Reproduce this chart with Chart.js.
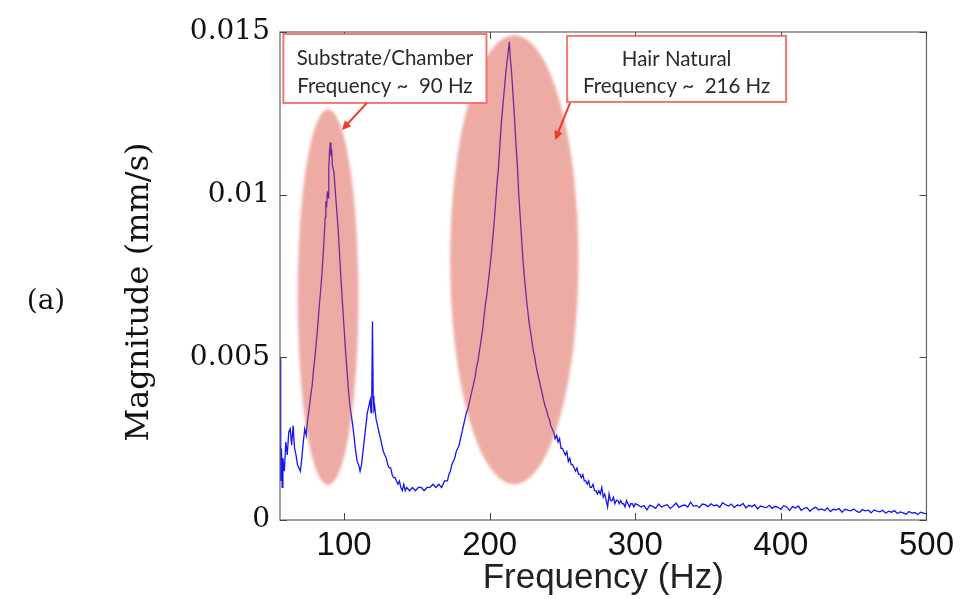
<!DOCTYPE html>
<html>
<head>
<meta charset="utf-8">
<script src="https://cdn.jsdelivr.net/npm/chart.js@4.4.1/dist/chart.umd.min.js"></script>
<style>
html,body{margin:0;padding:0;background:#fff;}
#wrap{width:960px;height:599px;position:relative;}
</style>
</head>
<body>
<div id="wrap"><canvas id="c" width="960" height="599"></canvas></div>
<script>
// ---- data ----
// segment 1: 56 - 249 Hz
const freqLow = [
56,56.5,57,57.5,58,59,60,61,62,63,64,65,66,67,68,69,70,71,72,73,74,75,76,77,78,79,80,81,82,83,84,85,86,87,87.5,88,88.5,89,89.5,90,90.5,91,91.5,92,93,94,95,96,97,98,99,100,101,102,103,104,105,106,107,108,109,110,111,112,113,114,115,116,117,118,118.5,119,119.5,120,120.5,121,122,123,124,125,126,127,128,129,130,131,132,133,134,135,136,137,138,139,140,141,142,143,145,147,149,151,153,155,157,159,161,163,165,167,169,171,172,173,174,175,176,177,178,179,180,181,182,183,184,185,186,187,188,189,190,191,192,193,194,195,196,197,198,199,200,201,202,203,204,205,206,207,208,209,210,211,212,213,213.5,214,215,216,217,218,219,220,221,222,223,224,225,226,227,228,229,230,231,232,233,234,235,236,237,238,239,240,241,242,243,244,245,246,247,248,249
];
const magLow = [
0.0050,0.0012,0.0022,0.0010,0.0019,0.0015,0.0024,0.0020,0.0027,0.0028,0.0023,0.0029,0.0022,0.0020,0.0017,0.0016,0.0015,0.0019,0.0024,0.0028,0.0026,0.0031,0.0034,0.0038,0.0041,0.0046,0.0050,0.0055,0.0060,0.0066,0.0071,0.0077,0.0084,0.0093,0.0098,0.0096,0.0101,0.0099,0.0108,0.0113,0.0116,0.0112,0.0114,0.0109,0.0107,0.0101,0.0095,0.0089,0.0081,0.0073,0.0066,0.0059,0.0052,0.0046,0.0040,0.0035,0.0032,0.0029,0.0025,0.0021,0.0018,0.0017,0.0015,0.0017,0.0021,0.0025,0.0029,0.0033,0.0035,0.0037,0.0033,0.0036,0.0061,0.0038,0.0034,0.0035,0.0031,0.0029,0.0027,0.0025,0.0023,0.0021,0.0020,0.0019,0.0017,0.0016,0.0016,0.0014,0.0013,0.0013,0.0012,0.0011,0.0012,0.0010,0.0009,0.0011,0.0009,0.0010,0.0009,0.0010,0.0009,0.0010,0.0010,0.0009,0.0010,0.0010,0.0011,0.0010,0.0011,0.0010,0.0012,0.0012,0.0014,0.0015,0.0017,0.0018,0.0019,0.0021,0.0022,0.0023,0.0025,0.0027,0.0029,0.0031,0.0033,0.0034,0.0036,0.0038,0.0040,0.0042,0.0044,0.0047,0.0049,0.0052,0.0055,0.0058,0.0062,0.0066,0.0069,0.0073,0.0077,0.0081,0.0086,0.0091,0.0097,0.0103,0.0108,0.0115,0.0122,0.0127,0.0132,0.0137,0.0141,0.0145,0.0147,0.0143,0.0138,0.0131,0.0124,0.0116,0.0109,0.0100,0.0093,0.0086,0.0079,0.0074,0.0069,0.0065,0.0061,0.0058,0.0055,0.0052,0.0050,0.0047,0.0045,0.0043,0.0041,0.0039,0.0037,0.0035,0.0034,0.0032,0.0031,0.0029,0.0028,0.0027,0.0025,0.0026,0.0024,0.0025,0.0022
];
// segment 2: 250 - 300 Hz
const freqMid = [
250,251,252,253,254,255,256,257,258,259,260,261,262,263,264,265,266,267,268,269,270,271,272,273,274,275,276,277,278,279,280,281,282,283,284,285,286,287,288,289,290,291,292,293,294,295,296,297,298,299,300
];
const magMid = [
0.0022,0.0021,0.0020,0.0021,0.0018,0.0019,0.0017,0.0017,0.0016,0.0015,
0.0016,0.0014,0.0014,0.0013,0.0014,0.0012,0.0012,0.0011,0.0012,0.0010,
0.0010,0.0011,0.0009,0.0009,0.0008,0.0009,0.0008,0.0010,0.0007,0.0008,
0.0006,0.0004,0.0008,0.0006,0.0006,0.0007,0.0005,0.0006,0.0006,0.0005,
0.0006,0.0005,0.0005,0.0004,0.0006,0.0005,0.0004,0.0005,0.0005,0.0004,
0.0005
];
// segment 3: 302 - 500 Hz
const freqHigh = [
302,304,306,308,310,312,314,316,318,320,322,324,326,328,330,332,334,336,338,340,342,344,346,348,350,352,354,356,358,360,362,364,366,368,370,372,374,376,378,380,382,384,386,388,390,392,394,396,398,400,402,404,406,408,410,412,414,416,418,420,422,424,426,428,430,432,434,436,438,440,442,444,446,448,450,452,454,456,458,460,462,464,466,468,470,472,474,476,478,480,482,484,486,488,490,492,494,496,498,500
];
const magHigh = [
0.00046,0.00040,0.00044,0.00031,0.00045,0.00042,0.00036,0.00049,0.00040,0.00044,
0.00047,0.00035,0.00043,0.00052,0.00039,0.00044,0.00046,0.00040,0.00055,0.00042,
0.00045,0.00038,0.00049,0.00047,0.00041,0.00050,0.00044,0.00046,0.00039,0.00053,
0.00047,0.00043,0.00049,0.00038,0.00046,0.00044,0.00051,0.00037,0.00045,0.00041,
0.00047,0.00034,0.00043,0.00040,0.00038,0.00045,0.00036,0.00042,0.00039,0.00033,
0.00044,0.00040,0.00029,0.00041,0.00037,0.00043,0.00030,0.00036,0.00038,0.00027,
0.00035,0.00039,0.00031,0.00034,0.00029,0.00037,0.00026,0.00033,0.00031,0.00035,
0.00024,0.00033,0.00030,0.00028,0.00034,0.00027,0.00023,0.00032,0.00028,0.00030,
0.00022,0.00031,0.00027,0.00025,0.00030,0.00021,0.00027,0.00024,0.00029,0.00020,
0.00025,0.00022,0.00018,0.00026,0.00021,0.00023,0.00017,0.00024,0.00021,0.00019
];
const xTicks = [100, 200, 300, 400, 500];
const yTicks = [0, 0.005, 0.01, 0.015];
const yTickLabels = ['0', '0.005', '0.01', '0.015'];
const xRange = [56, 500];
const yRange = [0, 0.015];
const xTitle = 'Frequency (Hz)';
const yTitle = 'Magnitude (mm/s)';

// annotation ellipses (data units): center freq, center magnitude / half-width Hz, half-height magnitude
const highlightCenters = [[89, 0.00685], [216.9, 0.0080]];
const highlightRadii = [[20.9, 0.00578], [44.1, 0.0069]];
const calloutLines = [['Substrate/Chamber', 'Frequency ~  90 Hz'], ['Hair Natural', 'Frequency ~  216 Hz']];
const calloutBoxes = [[58.3, 0.01494, 197.8, 0.01282], [253.2, 0.01488, 403.6, 0.01285]];
const calloutArrows = [[115.7, 0.01282, 98.6, 0.01199], [255.2, 0.01282, 245, 0.01168]];
const panelLabel = '(a)';

const freqHz = freqLow.concat(freqMid, freqHigh);
const magnitude = magLow.concat(magMid, magHigh);
const points = freqHz.map((f, i) => ({x: f, y: magnitude[i]}));

const overlayPlugin = {
  id: 'overlay',
  afterDatasetsDraw(chart) {
    const {ctx, chartArea: a, scales: {x, y}} = chart;
    // highlight ellipses
    ctx.save();
    ctx.beginPath();
    ctx.rect(a.left, a.top, a.right - a.left, a.bottom - a.top);
    ctx.clip();
    ctx.filter = 'blur(1.5px)';
    ctx.fillStyle = 'rgba(216,71,56,0.46)';
    highlightCenters.forEach((c, i) => {
      const cx = x.getPixelForValue(c[0]);
      const cy = y.getPixelForValue(c[1]);
      const rx = x.getPixelForValue(c[0] + highlightRadii[i][0]) - cx;
      const ry = cy - y.getPixelForValue(c[1] + highlightRadii[i][1]);
      ctx.beginPath();
      ctx.ellipse(cx, cy, rx, ry, 0, 0, Math.PI * 2);
      ctx.fill();
    });
    ctx.restore();

    // frame
    ctx.save();
    ctx.strokeStyle = '#666';
    ctx.lineWidth = 1.2;
    ctx.strokeRect(a.left, a.top, a.right - a.left, a.bottom - a.top);
    ctx.lineWidth = 1;
    ctx.strokeStyle = '#444';
    const tl = 7;
    xTicks.forEach(v => {
      const px = Math.round(x.getPixelForValue(v)) + 0.5;
      ctx.beginPath();
      ctx.moveTo(px, a.bottom); ctx.lineTo(px, a.bottom - tl);
      ctx.moveTo(px, a.top); ctx.lineTo(px, a.top + tl);
      ctx.stroke();
    });
    yTicks.forEach(v => {
      const py = Math.round(y.getPixelForValue(v)) + 0.5;
      ctx.beginPath();
      ctx.moveTo(a.left, py); ctx.lineTo(a.left + tl, py);
      ctx.moveTo(a.right, py); ctx.lineTo(a.right - tl, py);
      ctx.stroke();
    });
    ctx.restore();

    // callout boxes
    ctx.save();
    calloutBoxes.forEach((b, i) => {
      const x0 = x.getPixelForValue(b[0]), y0 = y.getPixelForValue(b[1]);
      const x1 = x.getPixelForValue(b[2]), y1 = y.getPixelForValue(b[3]);
      ctx.fillStyle = '#fff';
      ctx.fillRect(x0, y0, x1 - x0, y1 - y0);
      ctx.strokeStyle = 'rgba(240,105,95,0.9)';
      ctx.lineWidth = 2;
      ctx.strokeRect(x0, y0, x1 - x0, y1 - y0);
      ctx.fillStyle = '#2a2a2a';
      ctx.font = '20.5px Lato';
      ctx.textAlign = 'center';
      ctx.textBaseline = 'middle';
      const cxm = (x0 + x1) / 2, h = y1 - y0;
      ctx.fillText(calloutLines[i][0], cxm, y0 + h * 0.35);
      ctx.fillText(calloutLines[i][1], cxm, y0 + h * 0.76);
    });
    // arrows
    ctx.strokeStyle = '#ee3b25';
    ctx.fillStyle = '#ee3b25';
    ctx.lineWidth = 2;
    calloutArrows.forEach(ar => {
      const x0 = x.getPixelForValue(ar[0]), y0 = y.getPixelForValue(ar[1]);
      const x1 = x.getPixelForValue(ar[2]), y1 = y.getPixelForValue(ar[3]);
      const ang = Math.atan2(y1 - y0, x1 - x0);
      ctx.beginPath();
      ctx.moveTo(x0, y0);
      ctx.lineTo(x1 - 6 * Math.cos(ang), y1 - 6 * Math.sin(ang));
      ctx.stroke();
      ctx.beginPath();
      ctx.moveTo(x1, y1);
      ctx.lineTo(x1 - 10 * Math.cos(ang - 0.45), y1 - 10 * Math.sin(ang - 0.45));
      ctx.lineTo(x1 - 10 * Math.cos(ang + 0.45), y1 - 10 * Math.sin(ang + 0.45));
      ctx.closePath();
      ctx.fill();
    });
    // y-axis title
    ctx.fillStyle = '#111';
    ctx.font = '32px "DejaVu Serif"';
    ctx.textAlign = 'center';
    ctx.textBaseline = 'middle';
    ctx.save();
    ctx.translate(140, (a.top + a.bottom) / 2 + 16);
    ctx.rotate(-Math.PI / 2);
    ctx.fillText(yTitle, 0, 0);
    ctx.restore();
    // panel label
    ctx.font = '28px "DejaVu Serif"';
    ctx.fillText(panelLabel, 46, y.getPixelForValue(0.0067));
    ctx.restore();
  }
};

new Chart(document.getElementById('c'), {
  type: 'line',
  data: {
    datasets: [{
      data: points,
      borderColor: '#1414f5',
      borderWidth: 1.3,
      pointRadius: 0,
      tension: 0,
      fill: false
    }]
  },
  options: {
    responsive: false,
    animation: false,
    events: [],
    layout: {padding: {top: 32, right: 31, left: 0, bottom: 0}},
    plugins: {legend: {display: false}, tooltip: {enabled: false}},
    scales: {
      x: {
        type: 'linear',
        min: xRange[0], max: xRange[1],
        afterBuildTicks: s => { s.ticks = xTicks.map(v => ({value: v})); },
        afterFit: s => { s.height = 79; },
        grid: {display: false, drawTicks: false},
        border: {display: false},
        ticks: {
          padding: 6,
          color: '#111',
          font: {family: '"Liberation Sans", Arial, sans-serif', size: 33},
          maxRotation: 0,
          callback: v => String(v)
        },
        title: {
          display: true,
          text: xTitle,
          color: '#222',
          font: {family: '"Liberation Sans", Arial, sans-serif', size: 35, lineHeight: 1},
          padding: {top: 0, bottom: 3}
        }
      },
      y: {
        type: 'linear',
        min: yRange[0], max: yRange[1],
        afterBuildTicks: s => { s.ticks = yTicks.map(v => ({value: v})); },
        afterFit: s => { s.width = 280; },
        grid: {display: false, drawTicks: false},
        border: {display: false},
        ticks: {
          padding: 10,
          color: '#111',
          font: {family: '"DejaVu Serif", serif', size: 28},
          callback: (v) => yTickLabels[yTicks.indexOf(v)] ?? ''
        },
        title: {display: false}
      }
    }
  },
  plugins: [overlayPlugin]
});
</script>
</body>
</html>
